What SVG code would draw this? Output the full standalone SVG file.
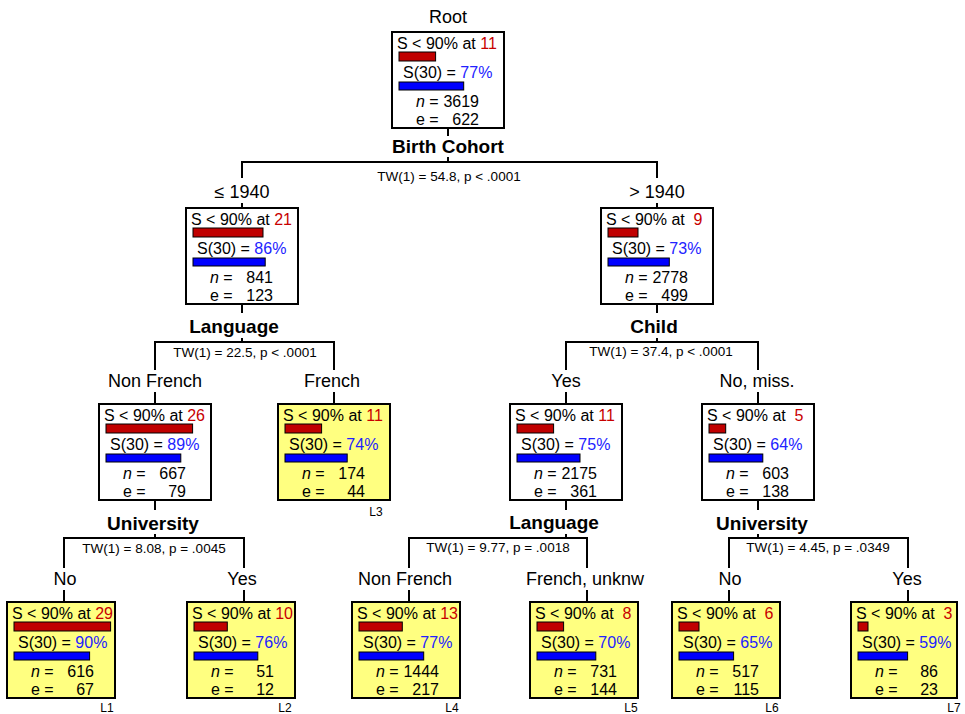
<svg xmlns="http://www.w3.org/2000/svg" width="965" height="714" viewBox="0 0 965 714">
<style>
text{font-family:"Liberation Sans",Arial,sans-serif;fill:#000}
.box{fill:#fff;stroke:#000;stroke-width:2}
.leaf{fill:#FFFF80}
.t{font-size:16px}
.num{font-size:16px;text-anchor:end}
.red{fill:#C80000}
.blue{fill:#2222FF}
.it{font-style:italic}
.rbar{fill:#C00000;stroke:#000;stroke-width:1}
.bbar{fill:#0000FF;stroke:#000;stroke-width:1}
.split{font-size:19px;font-weight:bold;text-anchor:middle}
.tw{font-size:13.5px;text-anchor:middle}
.br{font-size:18px;text-anchor:middle}
.lab{font-size:12px;text-anchor:middle}
#connectors line{stroke:#000;stroke-width:2}
</style>
<g id="connectors">
<line x1="448" y1="128" x2="448" y2="136"/><line x1="448" y1="157" x2="448" y2="162"/>
<line x1="241" y1="162" x2="658" y2="162"/>
<line x1="242" y1="162" x2="242" y2="178"/><line x1="242" y1="203" x2="242" y2="208"/>
<line x1="657" y1="162" x2="657" y2="178"/><line x1="657" y1="203" x2="657" y2="208"/>
<line x1="242" y1="304" x2="242" y2="313"/><line x1="242" y1="338" x2="242" y2="342"/>
<line x1="154" y1="342" x2="335" y2="342"/>
<line x1="155" y1="342" x2="155" y2="370"/><line x1="155" y1="392" x2="155" y2="404"/>
<line x1="334" y1="342" x2="334" y2="370"/><line x1="334" y1="392" x2="334" y2="404"/>
<line x1="657" y1="304" x2="657" y2="313"/><line x1="657" y1="338" x2="657" y2="342"/>
<line x1="565" y1="342" x2="759" y2="342"/>
<line x1="566" y1="342" x2="566" y2="370"/><line x1="566" y1="392" x2="566" y2="404"/>
<line x1="758" y1="342" x2="758" y2="370"/><line x1="758" y1="392" x2="758" y2="404"/>
<line x1="155" y1="500" x2="155" y2="510"/><line x1="155" y1="534" x2="155" y2="538"/>
<line x1="63" y1="538" x2="245" y2="538"/>
<line x1="64" y1="538" x2="64" y2="568"/><line x1="64" y1="590" x2="64" y2="602"/>
<line x1="244" y1="538" x2="244" y2="568"/><line x1="244" y1="590" x2="244" y2="602"/>
<line x1="566" y1="500" x2="566" y2="510"/><line x1="566" y1="534" x2="566" y2="538"/>
<line x1="408" y1="538" x2="588" y2="538"/>
<line x1="409" y1="538" x2="409" y2="568"/><line x1="409" y1="590" x2="409" y2="602"/>
<line x1="587" y1="538" x2="587" y2="568"/><line x1="587" y1="590" x2="587" y2="602"/>
<line x1="758" y1="500" x2="758" y2="510"/><line x1="758" y1="534" x2="758" y2="538"/>
<line x1="728" y1="538" x2="909" y2="538"/>
<line x1="729" y1="538" x2="729" y2="568"/><line x1="729" y1="590" x2="729" y2="602"/>
<line x1="908" y1="538" x2="908" y2="568"/><line x1="908" y1="590" x2="908" y2="602"/>
</g>
<g id="split-labels">
<text class="br" x="448" y="23">Root</text>
<text class="split" x="448" y="153">Birth Cohort</text>
<text class="tw" x="449" y="181">TW(1) = 54.8, p &lt; .0001</text>
<text class="br" x="242" y="198">≤ 1940</text>
<text class="br" x="657" y="198">&gt; 1940</text>
<text class="split" x="234" y="333">Language</text>
<text class="tw" x="245" y="357">TW(1) = 22.5, p &lt; .0001</text>
<text class="br" x="155" y="387">Non French</text>
<text class="br" x="332" y="387">French</text>
<text class="split" x="654" y="333">Child</text>
<text class="tw" x="661" y="356">TW(1) = 37.4, p &lt; .0001</text>
<text class="br" x="566" y="387">Yes</text>
<text class="br" x="757" y="387">No, miss.</text>
<text class="split" x="153" y="530">University</text>
<text class="tw" x="154" y="553">TW(1) = 8.08, p = .0045</text>
<text class="br" x="65" y="585">No</text>
<text class="br" x="242" y="585">Yes</text>
<text class="split" x="554" y="529">Language</text>
<text class="tw" x="498" y="552">TW(1) = 9.77, p = .0018</text>
<text class="br" x="405" y="585">Non French</text>
<text class="br" x="585" y="585">French, unknw</text>
<text class="split" x="762" y="530">University</text>
<text class="tw" x="818" y="552">TW(1) = 4.45, p = .0349</text>
<text class="br" x="730" y="585">No</text>
<text class="br" x="907" y="585">Yes</text>
</g>
<g id="root">
<rect class="box" x="392" y="32" width="112" height="96"/>
<text class="t" x="397" y="49" xml:space="preserve">S &lt; 90% at <tspan class="red">11</tspan></text>
<rect class="rbar" x="399" y="52" width="36.6" height="9"/>
<text class="t" x="403" y="78">S(30) = <tspan class="blue">77%</tspan></text>
<rect class="bbar" x="399" y="82" width="64.7" height="8"/>
<text class="t" x="416" y="107"><tspan class="it">n</tspan> =</text><text class="num" x="479" y="107">3619</text>
<text class="t" x="416" y="125">e =</text><text class="num" x="479" y="125">622</text>
</g>
<g id="node-le1940">
<rect class="box" x="186" y="208" width="112" height="96"/>
<text class="t" x="191" y="225" xml:space="preserve">S &lt; 90% at <tspan class="red">21</tspan></text>
<rect class="rbar" x="193" y="228" width="70" height="9"/>
<text class="t" x="197" y="254">S(30) = <tspan class="blue">86%</tspan></text>
<rect class="bbar" x="193" y="258" width="72.2" height="8"/>
<text class="t" x="210" y="283"><tspan class="it">n</tspan> =</text><text class="num" x="273" y="283">841</text>
<text class="t" x="210" y="301">e =</text><text class="num" x="273" y="301">123</text>
</g>
<g id="node-gt1940">
<rect class="box" x="601" y="208" width="112" height="96"/>
<text class="t" x="606" y="225" xml:space="preserve">S &lt; 90% at  <tspan class="red">9</tspan></text>
<rect class="rbar" x="608" y="228" width="30" height="9"/>
<text class="t" x="612" y="254">S(30) = <tspan class="blue">73%</tspan></text>
<rect class="bbar" x="608" y="258" width="61.3" height="8"/>
<text class="t" x="625" y="283"><tspan class="it">n</tspan> =</text><text class="num" x="688" y="283">2778</text>
<text class="t" x="625" y="301">e =</text><text class="num" x="688" y="301">499</text>
</g>
<g id="node-nonfrench">
<rect class="box" x="99" y="404" width="112" height="96"/>
<text class="t" x="104" y="421" xml:space="preserve">S &lt; 90% at <tspan class="red">26</tspan></text>
<rect class="rbar" x="106" y="424" width="86.6" height="9"/>
<text class="t" x="110" y="450">S(30) = <tspan class="blue">89%</tspan></text>
<rect class="bbar" x="106" y="454" width="74.8" height="8"/>
<text class="t" x="123" y="479"><tspan class="it">n</tspan> =</text><text class="num" x="186" y="479">667</text>
<text class="t" x="123" y="497">e =</text><text class="num" x="186" y="497">79</text>
</g>
<g id="leaf-L3">
<rect class="box leaf" x="278" y="404" width="112" height="96"/>
<text class="t" x="283" y="421" xml:space="preserve">S &lt; 90% at <tspan class="red">11</tspan></text>
<rect class="rbar" x="285" y="424" width="36.6" height="9"/>
<text class="t" x="289" y="450">S(30) = <tspan class="blue">74%</tspan></text>
<rect class="bbar" x="285" y="454" width="62.2" height="8"/>
<text class="t" x="302" y="479"><tspan class="it">n</tspan> =</text><text class="num" x="365" y="479">174</text>
<text class="t" x="302" y="497">e =</text><text class="num" x="365" y="497">44</text>
<text class="lab" x="376" y="516">L3</text>
</g>
<g id="node-child-yes">
<rect class="box" x="510" y="404" width="112" height="96"/>
<text class="t" x="515" y="421" xml:space="preserve">S &lt; 90% at <tspan class="red">11</tspan></text>
<rect class="rbar" x="517" y="424" width="36.6" height="9"/>
<text class="t" x="521" y="450">S(30) = <tspan class="blue">75%</tspan></text>
<rect class="bbar" x="517" y="454" width="63" height="8"/>
<text class="t" x="534" y="479"><tspan class="it">n</tspan> =</text><text class="num" x="597" y="479">2175</text>
<text class="t" x="534" y="497">e =</text><text class="num" x="597" y="497">361</text>
</g>
<g id="node-child-no">
<rect class="box" x="702" y="404" width="112" height="96"/>
<text class="t" x="707" y="421" xml:space="preserve">S &lt; 90% at  <tspan class="red">5</tspan></text>
<rect class="rbar" x="709" y="424" width="16.7" height="9"/>
<text class="t" x="713" y="450">S(30) = <tspan class="blue">64%</tspan></text>
<rect class="bbar" x="709" y="454" width="53.8" height="8"/>
<text class="t" x="726" y="479"><tspan class="it">n</tspan> =</text><text class="num" x="789" y="479">603</text>
<text class="t" x="726" y="497">e =</text><text class="num" x="789" y="497">138</text>
</g>
<g id="leaf-L1">
<rect class="box leaf" x="7" y="602" width="108" height="96"/>
<text class="t" x="12" y="619" xml:space="preserve">S &lt; 90% at <tspan class="red">29</tspan></text>
<rect class="rbar" x="14" y="622" width="96.6" height="9"/>
<text class="t" x="18" y="648">S(30) = <tspan class="blue">90%</tspan></text>
<rect class="bbar" x="14" y="652" width="75.6" height="8"/>
<text class="t" x="31" y="677"><tspan class="it">n</tspan> =</text><text class="num" x="94" y="677">616</text>
<text class="t" x="31" y="695">e =</text><text class="num" x="94" y="695">67</text>
<text class="lab" x="107" y="712">L1</text>
</g>
<g id="leaf-L2">
<rect class="box leaf" x="187" y="602" width="108" height="96"/>
<text class="t" x="192" y="619" xml:space="preserve">S &lt; 90% at <tspan class="red">10</tspan></text>
<rect class="rbar" x="194" y="622" width="33.3" height="9"/>
<text class="t" x="198" y="648">S(30) = <tspan class="blue">76%</tspan></text>
<rect class="bbar" x="194" y="652" width="63.8" height="8"/>
<text class="t" x="211" y="677"><tspan class="it">n</tspan> =</text><text class="num" x="274" y="677">51</text>
<text class="t" x="211" y="695">e =</text><text class="num" x="274" y="695">12</text>
<text class="lab" x="285" y="712">L2</text>
</g>
<g id="leaf-L4">
<rect class="box leaf" x="352" y="602" width="108" height="96"/>
<text class="t" x="357" y="619" xml:space="preserve">S &lt; 90% at <tspan class="red">13</tspan></text>
<rect class="rbar" x="359" y="622" width="43.3" height="9"/>
<text class="t" x="363" y="648">S(30) = <tspan class="blue">77%</tspan></text>
<rect class="bbar" x="359" y="652" width="64.7" height="8"/>
<text class="t" x="376" y="677"><tspan class="it">n</tspan> =</text><text class="num" x="439" y="677">1444</text>
<text class="t" x="376" y="695">e =</text><text class="num" x="439" y="695">217</text>
<text class="lab" x="452" y="712">L4</text>
</g>
<g id="leaf-L5">
<rect class="box leaf" x="530" y="602" width="108" height="96"/>
<text class="t" x="535" y="619" xml:space="preserve">S &lt; 90% at  <tspan class="red">8</tspan></text>
<rect class="rbar" x="537" y="622" width="26.6" height="9"/>
<text class="t" x="541" y="648">S(30) = <tspan class="blue">70%</tspan></text>
<rect class="bbar" x="537" y="652" width="58.8" height="8"/>
<text class="t" x="554" y="677"><tspan class="it">n</tspan> =</text><text class="num" x="617" y="677">731</text>
<text class="t" x="554" y="695">e =</text><text class="num" x="617" y="695">144</text>
<text class="lab" x="631" y="712">L5</text>
</g>
<g id="leaf-L6">
<rect class="box leaf" x="672" y="602" width="108" height="96"/>
<text class="t" x="677" y="619" xml:space="preserve">S &lt; 90% at  <tspan class="red">6</tspan></text>
<rect class="rbar" x="679" y="622" width="20" height="9"/>
<text class="t" x="683" y="648">S(30) = <tspan class="blue">65%</tspan></text>
<rect class="bbar" x="679" y="652" width="54.6" height="8"/>
<text class="t" x="696" y="677"><tspan class="it">n</tspan> =</text><text class="num" x="759" y="677">517</text>
<text class="t" x="696" y="695">e =</text><text class="num" x="759" y="695">115</text>
<text class="lab" x="772" y="712">L6</text>
</g>
<g id="leaf-L7">
<rect class="box leaf" x="851" y="602" width="106" height="96"/>
<text class="t" x="856" y="619" xml:space="preserve">S &lt; 90% at  <tspan class="red">3</tspan></text>
<rect class="rbar" x="858" y="622" width="10" height="9"/>
<text class="t" x="862" y="648">S(30) = <tspan class="blue">59%</tspan></text>
<rect class="bbar" x="858" y="652" width="49.6" height="8"/>
<text class="t" x="875" y="677"><tspan class="it">n</tspan> =</text><text class="num" x="938" y="677">86</text>
<text class="t" x="875" y="695">e =</text><text class="num" x="938" y="695">23</text>
<text class="lab" x="954" y="712">L7</text>
</g>
</svg>
